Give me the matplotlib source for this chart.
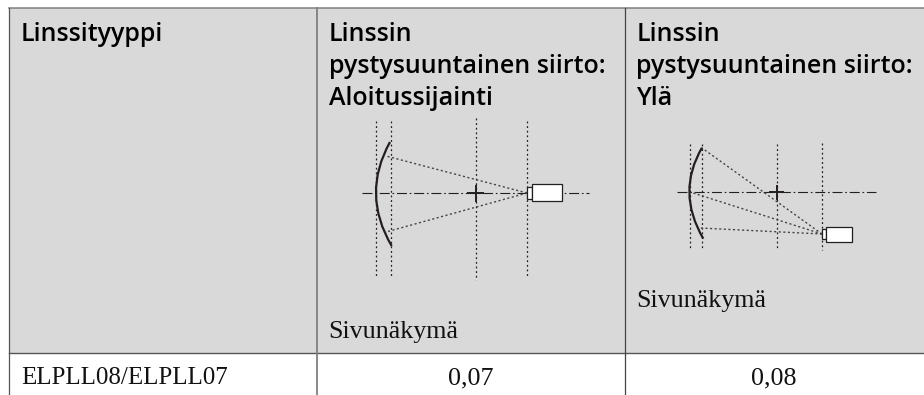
import matplotlib
matplotlib.use('Agg')
import matplotlib.pyplot as plt
from matplotlib.patches import PathPatch, Rectangle
from matplotlib.path import Path

# table texts
otsikot = [['Linssityyppi'],
           ['Linssin', 'pystysuuntainen siirto:', 'Aloitussijainti'],
           ['Linssin', 'pystysuuntainen siirto:', 'Ylä']]
kuvateksti = 'Sivunäkymä'
linssi = 'ELPLL08/ELPLL07'
arvot = ['0,07', '0,08']

# table grid, in pixels of the page
sarakkeet = [9, 317, 624.5, 924]
yla = 8
rivi = 353
ala = 395

HARMAA = '#d9d9d9'
VIIVA = '#808080'
TUMMA = '#231f20'

# the two side view drawings
kuva1 = {
    'pystyt': [(376.3, 121, 278), (390.7, 121, 278), (475.7, 118, 280), (527, 121, 278)],
    'akseli': (362, 589, 193.3),
    'kaari': [(390, 142), (361, 194), (391.7, 246)],
    'sateet': [(527, 193), (386, 156), (527, 193), (386, 232)],
    'runko': (532, 184, 29.7, 16.7),
    'linssi': (527, 187, 5, 12),
    'risti': (475.7, 193.3, 8.5),
}
kuva2 = {
    'pystyt': [(689.7, 144, 250), (702, 144, 250), (776.7, 144, 250), (821.7, 143, 250)],
    'akseli': (677, 876, 192.3),
    'kaari': [(702, 147.7), (676, 192), (703.3, 238.7)],
    'sateet': [(822, 234), (702, 148), (822, 234), (690, 192), (822, 234), (700, 228)],
    'runko': (826, 226.7, 26, 15),
    'linssi': (821.5, 229, 4.5, 10),
    'risti': (776.7, 192.3, 7.5),
}

plt.rcParams['font.family'] = ['Open Sans', 'DejaVu Sans']

fig = plt.figure(figsize=(9.24, 3.95), dpi=100)
ax = fig.add_axes([0, 0, 1, 1])
ax.set_xlim(0, 924)
ax.set_ylim(395, 0)
ax.axis('off')


def piirra_kuva(k):
    for x, y0, y1 in k['pystyt']:
        ax.plot([x, x], [y0, y1], color=TUMMA, lw=0.9, dashes=(1.5, 2.2), zorder=2)
    x0, x1, y = k['akseli']
    ax.plot([x0, x1], [y, y], color=TUMMA, lw=0.8, dashes=(9, 2.5, 1.5, 2.5), zorder=2)
    s = k['sateet']
    for i in range(0, len(s), 2):
        ax.plot([s[i][0], s[i + 1][0]], [s[i][1], s[i + 1][1]], color='#444444', lw=1.0,
                dashes=(1.5, 1.8), zorder=2)
    kaari = Path(k['kaari'], [Path.MOVETO, Path.CURVE3, Path.CURVE3])
    ax.add_patch(PathPatch(kaari, fc='none', ec=TUMMA, lw=1.6, zorder=3))
    for nimi in ['linssi', 'runko']:
        x, y, w, h = k[nimi]
        ax.add_patch(Rectangle((x, y), w, h, fc='white', ec=TUMMA, lw=0.9, zorder=4))
    x, y, r = k['risti']
    ax.plot([x - r, x + r], [y, y], color=TUMMA, lw=1.4, zorder=3, solid_capstyle='butt')
    ax.plot([x, x], [y - r, y + r], color=TUMMA, lw=1.4, zorder=3, solid_capstyle='butt')


# grey header and lines
ax.add_patch(Rectangle((sarakkeet[0], yla), sarakkeet[-1] - sarakkeet[0], rivi - yla,
                       fc=HARMAA, ec='none', zorder=0))
ax.plot([sarakkeet[0], sarakkeet[-1]], [yla, yla], color=VIIVA, lw=1.1, zorder=1)
ax.plot([sarakkeet[0], sarakkeet[-1]], [rivi, rivi], color='#555555', lw=1.0, zorder=1)
ax.plot([sarakkeet[0]] * 2, [yla, ala], color='#555555', lw=0.9, zorder=1)
ax.plot([sarakkeet[1]] * 2, [yla, ala], color=VIIVA, lw=1.3, zorder=1)
ax.plot([sarakkeet[2]] * 2, [yla, ala], color='#444444', lw=0.9, zorder=1)

# header text
for i in range(3):
    for j, rivi_teksti in enumerate(otsikot[i]):
        ax.text(sarakkeet[i] + 12, 40.7 + j * 32, rivi_teksti, fontsize=18, fontweight=600,
                color='black', va='baseline', ha='left')

piirra_kuva(kuva1)
piirra_kuva(kuva2)

serif = ['Liberation Serif', 'DejaVu Serif']
ax.text(328.5, 338, kuvateksti, family=serif, fontsize=18.7, color='#111111', va='baseline')
ax.text(636, 307, kuvateksti, family=serif, fontsize=18.7, color='#111111', va='baseline')

ax.text(21.5, 384, linssi, family=serif, fontsize=18, color='#111111', va='baseline')
ax.text((sarakkeet[1] + sarakkeet[2]) / 2, 384, arvot[0], family=serif, fontsize=18.7,
        color='#111111', va='baseline', ha='center')
ax.text((sarakkeet[2] + sarakkeet[3]) / 2, 384, arvot[1], family=serif, fontsize=18.7,
        color='#111111', va='baseline', ha='center')

fig.savefig('out.png', dpi=100)
